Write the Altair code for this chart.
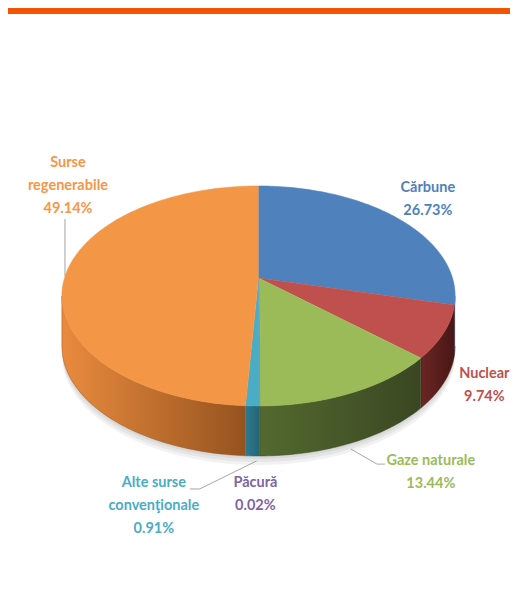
import altair as alt
import numpy as np
import pandas as pd

# ---------------- data ----------------
categories = ["Cărbune", "Nuclear", "Gaze naturale", "Păcură",
              "Alte surse convenţionale", "Surse regenerabile"]
shares = [26.73, 9.74, 13.44, 0.02, 0.91, 49.14]
label_lines = [["Cărbune"], ["Nuclear"], ["Gaze naturale"], ["Păcură"],
               ["Alte surse", "convenţionale"], ["Surse", "regenerabile"]]

# ---------------- styles ----------------
top_colors = ["#4F81BD", "#C0504D", "#9BBB59", "#8064A2", "#4BACC6", "#F39646"]
side_colors = [("#34577F", "#2A4566"), ("#6A2624", "#481716"), ("#53692F", "#3A4722"),
               ("#5E4A7A", "#4A3A60"), ("#2E7A90", "#256475"), ("#E98B3E", "#96531F")]
label_colors = ["#4F81BD", "#C0504D", "#9BBB59", "#8064A2", "#4BACC6", "#F79646"]

# ---------------- layout (page pixels) ----------------
W, H = 502, 580
CX, CY, RX, RY, APEX, DEPTH = 259, 296, 197, 110, 18, 50
WARP = 7.0  # degrees of perspective-like angular distortion
label_dx = [23, 46, 91, -4, -100, 6]
label_dy = [-35, 34, 65, 77, 77, -130]
leader_offsets = {2: [(11, 53), (37, 68), (45, 68)],
                  4: [(3, 55), (-54, 83), (-64, 83)],
                  5: [(3, -17), (3, -74)]}

total = sum(shares)
ends = np.cumsum(shares) / total * 360.0
starts = np.concatenate([[0.0], ends[:-1]])


def ell(theta_deg, dy=0.0, warp=0.0):
    t = np.radians(theta_deg + warp * np.sin(np.radians(2 * theta_deg)))
    return CX + RX * np.sin(t), CY - RY * np.cos(t) + dy


def arc(a, b):
    n = max(2, int(np.ceil(abs(b - a))) + 1)
    return np.linspace(a, b, n)


# top faces
top_rows = []
for i, cat in enumerate(categories):
    pts = [(CX, CY - APEX)]
    for th in arc(starts[i], ends[i]):
        pts.append(ell(th, 0, WARP))
    for k, (x, y) in enumerate(pts):
        top_rows.append({"cat": cat, "k": k, "x": x, "y": y})
top_df = pd.DataFrame(top_rows)

# side faces (front half only)
side_layers = []
for i, cat in enumerate(categories):
    a, b = max(starts[i], 90.0), min(ends[i], 270.0)
    if b <= a:
        continue
    ths = arc(a, b)
    pts = [ell(th, 0, WARP) for th in ths] + [ell(th, DEPTH, WARP) for th in ths[::-1]]
    df = pd.DataFrame({"cat": cat, "k": range(len(pts)),
                       "x": [p[0] for p in pts], "y": [p[1] for p in pts]})
    c1, c2 = side_colors[i]
    grad = alt.LinearGradient(gradient="linear",
                              stops=[alt.GradientStop(color=c1, offset=0),
                                     alt.GradientStop(color=c2, offset=1)],
                              x1=0, x2=1, y1=0, y2=0)
    side_layers.append(
        alt.Chart(df).mark_line(filled=True, fill=grad, stroke=c2, strokeWidth=0.5)
        .encode(x=alt.X("x:Q"), y=alt.Y("y:Q"), order="k:Q")
    )

# soft shadow under the front rim
shadow_rows = []
for s in (3, 6, 9):
    ths = arc(95, 265)
    pts = [ell(th, DEPTH - 2) for th in ths] + [ell(th, DEPTH + s) for th in ths[::-1]]
    for k, (x, y) in enumerate(pts):
        shadow_rows.append({"s": s, "k": k, "x": x, "y": y})
shadow_df = pd.DataFrame(shadow_rows)

# labels (y is the first text line)
mids = (starts + ends) / 2
lab_rows = []
for i, cat in enumerate(categories):
    ax, ay = ell(mids[i])
    lab_rows.append({"cat": cat, "x": ax + label_dx[i], "y": ay + label_dy[i],
                     "lines": label_lines[i] + [f"{shares[i]:.2f}%"],
                     "col": label_colors[i]})
lab_df = pd.DataFrame(lab_rows)

# leader lines
lead_rows = []
for i, offs in leader_offsets.items():
    ax, ay = ell(mids[i])
    for k, (dx, dy) in enumerate(offs):
        lead_rows.append({"cat": categories[i], "k": k, "x": ax + dx, "y": ay + dy})
lead_df = pd.DataFrame(lead_rows)

xs = alt.Scale(domain=[8, 8 + W], nice=False, zero=False)
ys = alt.Scale(domain=[8, 8 + H], nice=False, zero=False, reverse=True)

shadow = alt.Chart(shadow_df).mark_line(filled=True, fill="#000000", fillOpacity=0.05,
                                        strokeWidth=0).encode(
    x=alt.X("x:Q", scale=xs, axis=None), y=alt.Y("y:Q", scale=ys, axis=None),
    detail="s:N", order="k:Q")

color_scale = alt.Scale(domain=categories, range=top_colors)
tops = alt.Chart(top_df).mark_line(filled=True, strokeWidth=0.6).encode(
    x=alt.X("x:Q"), y=alt.Y("y:Q"),
    fill=alt.Fill("cat:N", scale=color_scale, legend=None),
    stroke=alt.Stroke("cat:N", scale=color_scale, legend=None),
    detail="cat:N", order="k:Q")

leaders = alt.Chart(lead_df).mark_line(color="#A6A6A6", strokeWidth=1).encode(
    x="x:Q", y="y:Q", detail="cat:N", order="k:Q")

labels = alt.Chart(lab_df).mark_text(font="Lato", fontWeight="bold", fontSize=14.5,
                                     lineHeight=23, align="center",
                                     baseline="middle").encode(
    x="x:Q", y="y:Q", text="lines", color=alt.Color("col:N", scale=None))

bar = alt.Chart(pd.DataFrame({"a": [0]})).mark_rect(color="#F35400").encode(
    x=alt.value(0), x2=alt.value(W), y=alt.value(0), y2=alt.value(6))

chart = alt.layer(shadow, *side_layers, tops, leaders, labels, bar).properties(
    width=W, height=H, padding=0,
    autosize=alt.AutoSizeParams(type="fit", contains="padding"),
).configure_view(stroke=None)

chart.save("out.html", embed_options={"renderer": "svg", "actions": False})
